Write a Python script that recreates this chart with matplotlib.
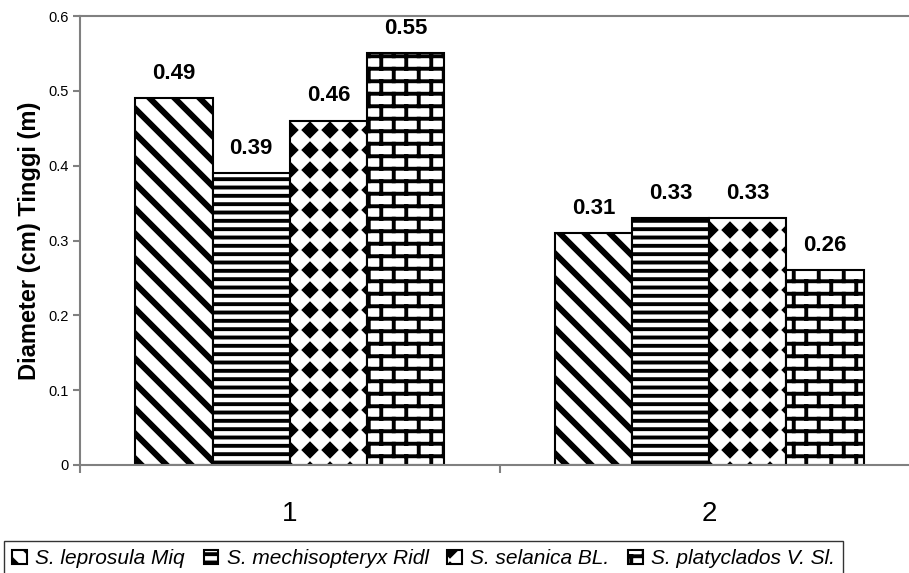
import numpy as np
import matplotlib
matplotlib.use("Agg")
import matplotlib.pyplot as plt
import matplotlib.hatch as mhatch
from matplotlib.path import Path

# data
categories = ["1", "2"]
species = ["S. leprosula Miq", "S. mechisopteryx Ridl", "S. selanica BL.", "S. platyclados V. Sl."]
leprosula = [0.49, 0.31]
mechisopteryx = [0.39, 0.33]
selanica = [0.46, 0.33]
platyclados = [0.55, 0.26]
series = [leprosula, mechisopteryx, selanica, platyclados]


# custom hatch patterns: '\' -> wide diagonal stripes, '.' -> filled diamonds, '*' -> bricks
class StripeHatch(mhatch.HatchPatternBase):
    def __init__(self, hatch, density):
        self.n = hatch.count('\\') * 4
        self.num_vertices = (2 * self.n + 2) * 5 if self.n else 0

    def set_vertices_and_codes(self, vertices, codes):
        d = 0.03
        k = 0
        for i in range(-1, 2 * self.n + 1):
            c = i / self.n
            vertices[k:k + 5] = [(c, 0.0), (c + d, 0.0), (c + d - 1.0, 1.0), (c - 1.0, 1.0), (c, 0.0)]
            codes[k:k + 5] = [Path.MOVETO, Path.LINETO, Path.LINETO, Path.LINETO, Path.CLOSEPOLY]
            k += 5


class DiamondHatch(mhatch.HatchPatternBase):
    def __init__(self, hatch, density):
        self.n = hatch.count('.') * 5
        self.num_vertices = self.n * self.n * 5

    def set_vertices_and_codes(self, vertices, codes):
        n = self.n
        r = 0.06
        k = 0
        for i in range(n):
            for j in range(n):
                cx = (i + 0.5) / n
                cy = (j + 0.5) / n
                vertices[k:k + 5] = [(cx, cy - r), (cx + r, cy), (cx, cy + r), (cx - r, cy), (cx, cy - r)]
                codes[k:k + 5] = [Path.MOVETO, Path.LINETO, Path.LINETO, Path.LINETO, Path.CLOSEPOLY]
                k += 5


class BrickHatch(mhatch.HatchPatternBase):
    def __init__(self, hatch, density):
        self.on = hatch.count('*') > 0
        self.rows = 8
        self.cols = 4
        self.num_vertices = (self.rows * 2 + (self.rows + 1) * self.cols * 2) if self.on else 0

    def set_vertices_and_codes(self, vertices, codes):
        rows, cols = self.rows, self.cols
        k = 0
        for r in range(rows):
            y = (r + 0.5) / rows
            vertices[k:k + 2] = [(0.0, y), (1.0, y)]
            codes[k:k + 2] = [Path.MOVETO, Path.LINETO]
            k += 2
        for r in range(-1, rows):
            y0 = (r + 0.5) / rows
            y1 = (r + 1.5) / rows
            for m in range(cols):
                x = (m + 0.25 + 0.5 * (r % 2)) / cols
                vertices[k:k + 2] = [(x, y0), (x, y1)]
                codes[k:k + 2] = [Path.MOVETO, Path.LINETO]
                k += 2


mhatch._hatch_types[:] = [t for t in mhatch._hatch_types
                          if t not in (mhatch.SouthEastHatch, mhatch.SmallFilledCircles, mhatch.Stars)]
mhatch._hatch_types.extend([StripeHatch, DiamondHatch, BrickHatch])

plt.rcParams['font.family'] = ['Liberation Sans', 'DejaVu Sans']
plt.rcParams['hatch.linewidth'] = 2.8
plt.rcParams['hatch.color'] = 'black'

hatches = ['\\', '--', '.', '*']

fig = plt.figure(figsize=(9.09, 5.73), dpi=100)
W, H = 909, 573
ax = fig.add_axes([80 / W, (H - 465) / H, 839 / W, 449 / H])

x = np.arange(len(categories))
width = 0.184
for i, vals in enumerate(series):
    pos = x + (i - 1.5) * width
    bars = ax.bar(pos, vals, width, color='white', edgecolor='black',
                  linewidth=1.5, hatch=hatches[i], label=species[i])
    for b, v in zip(bars, vals):
        ax.annotate(f"{v:.2f}", (b.get_x() + b.get_width() / 2, v),
                    xytext=(0, 18), textcoords='offset points',
                    ha='center', va='center', fontsize=16, fontweight='bold')

ax.set_xlim(-0.5, 1.5)
ax.set_ylim(0, 0.6)
ax.set_yticks([0, 0.1, 0.2, 0.3, 0.4, 0.5, 0.6])
ax.set_yticklabels(["0", "0.1", "0.2", "0.3", "0.4", "0.5", "0.6"], fontsize=10.5)
ax.set_xticks(x)
ax.set_xticklabels(categories, fontsize=20)
ax.tick_params(axis='x', length=0, pad=26)
ax.set_xticks([-0.5, 0.5, 1.5], minor=True)
ax.tick_params(axis='x', which='minor', length=6, width=1.5, color='#808080')
ax.tick_params(axis='y', length=5, width=1.5, color='#808080', pad=3)

for s in ['left', 'top', 'bottom']:
    ax.spines[s].set_color('#808080')
    ax.spines[s].set_linewidth(1.5)
ax.spines['right'].set_visible(False)

ax.set_ylabel("Diameter (cm) Tinggi (m)", fontsize=17, fontweight='bold')
ax.yaxis.set_label_coords(-0.047, 0.5)

leg = fig.legend(loc='upper left', bbox_to_anchor=(4 / W, 1 - 541 / H), ncol=4,
                 frameon=True, fancybox=False, borderaxespad=0,
                 handlelength=0.7, handleheight=0.7, handletextpad=0.4,
                 columnspacing=0.9, borderpad=0.4,
                 prop={'style': 'italic', 'size': 15})
leg.get_frame().set_edgecolor('black')
leg.get_frame().set_linewidth(1.0)

fig.savefig("out.png", dpi=100)
